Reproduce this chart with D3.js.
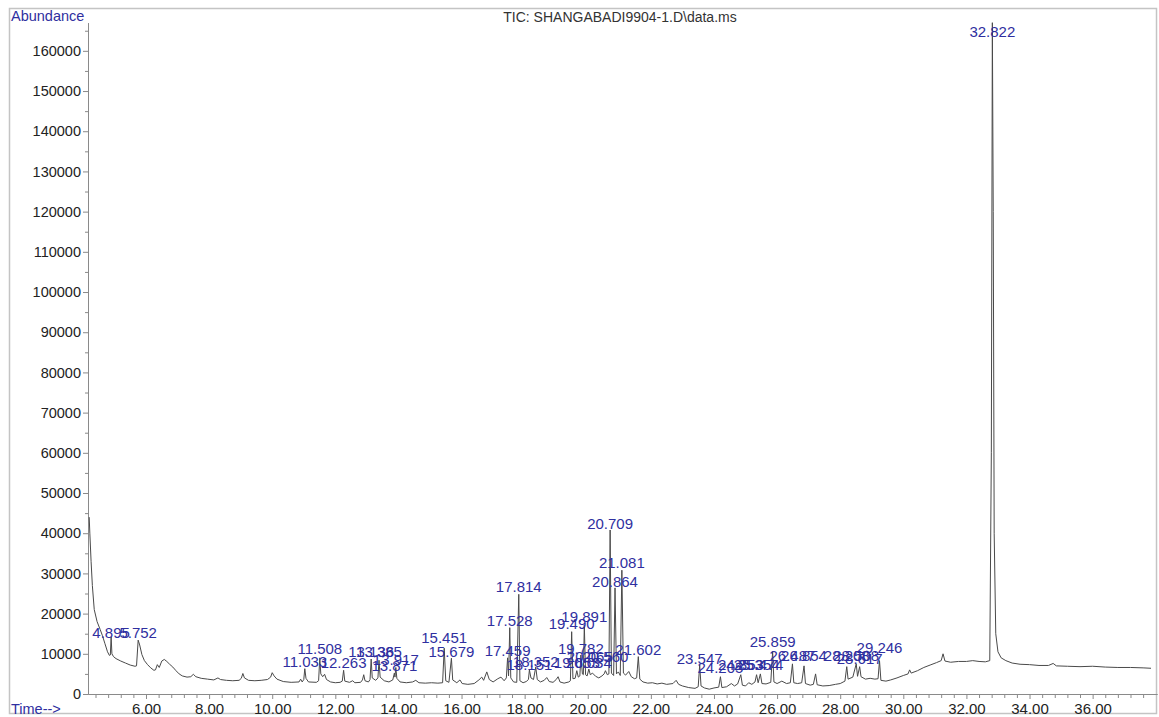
<!DOCTYPE html>
<html>
<head>
<meta charset="utf-8">
<script src="https://cdn.jsdelivr.net/npm/d3@7"></script>
<style>
  body { margin: 0; background: #fff; }
  svg text { font-family: "Liberation Sans", Arial, sans-serif; }
  .tic-axis path, .tic-axis line { stroke: #8a8a8a; }
  .tic-axis text { fill: #222; }
</style>
</head>
<body>
<div id="chart"></div>
<script>
// retention time (min), abundance
const trace = [
  [4.20,44000],[4.22,40000],[4.26,33000],[4.30,27000],[4.36,21000],[4.45,18000],[4.55,16000],[4.62,14500],
  [4.70,12500],[4.78,10500],[4.84,9600],[4.87,9700],[4.895,14200],[4.92,10000],[4.97,9300],[5.05,8800],
  [5.20,8200],[5.35,7700],[5.50,7200],[5.65,6900],[5.70,7000],[5.752,13400],[5.80,12200],[5.87,9800],
  [5.95,8300],[6.05,7300],[6.15,6500],[6.25,5900],[6.30,6000],[6.36,7300],[6.42,6600],[6.50,8200],
  [6.58,8600],[6.66,8100],[6.75,7400],[6.85,6700],[6.95,5800],[7.05,5000],[7.15,4500],[7.30,4200],
  [7.42,4300],[7.50,4900],[7.58,4300],[7.75,3900],[7.95,3700],[8.15,3500],[8.28,4000],[8.36,3600],
  [8.55,3400],[8.75,3300],[8.95,3400],[9.02,3900],[9.07,5100],[9.12,4000],[9.25,3400],[9.45,3300],
  [9.65,3400],[9.85,3600],[9.95,4200],[10.00,5300],[10.06,4500],[10.15,3700],[10.35,3100],[10.60,2900],
  [10.85,3000],[10.90,3700],[10.95,3000],[11.00,3600],[11.033,6300],[11.07,3900],[11.15,3000],[11.40,2900],
  [11.47,3300],[11.508,9000],[11.54,5000],[11.60,4300],[11.66,4900],[11.72,3600],[11.85,3000],[12.00,2800],
  [12.15,2900],[12.22,3200],[12.263,5900],[12.30,3200],[12.45,2900],[12.55,3300],[12.62,2800],[12.80,2900],
  [12.86,3500],[12.90,4800],[12.94,3300],[13.05,3000],[13.10,3600],[13.136,8700],[13.17,4000],[13.28,3400],
  [13.35,4000],[13.385,8400],[13.42,4200],[13.55,3300],[13.70,3000],[13.82,3500],[13.871,5200],[13.89,4200],
  [13.917,6600],[13.95,3900],[14.05,3000],[14.25,2800],[14.45,3000],[14.55,3400],[14.65,2800],[14.85,2700],
  [15.05,2800],[15.25,2700],[15.40,2800],[15.451,11400],[15.50,3300],[15.60,2900],[15.679,8900],[15.72,3500],
  [15.85,2800],[15.95,3500],[16.02,2600],[16.20,2400],[16.40,2600],[16.55,3500],[16.64,4200],[16.70,3400],
  [16.80,5500],[16.88,3600],[17.00,3000],[17.15,3800],[17.25,4200],[17.35,3300],[17.42,4000],[17.459,9000],
  [17.49,4500],[17.528,16500],[17.56,4000],[17.65,3000],[17.75,2900],[17.814,24800],[17.85,3300],[17.95,2800],
  [18.05,3100],[18.12,3600],[18.151,6000],[18.20,4000],[18.28,3600],[18.352,6700],[18.40,3600],[18.50,3000],
  [18.62,3400],[18.70,4100],[18.78,3100],[18.90,2900],[19.00,3600],[19.06,4300],[19.12,3000],[19.25,2700],
  [19.40,3000],[19.45,3300],[19.490,15500],[19.53,3800],[19.60,3900],[19.653,5800],[19.70,4200],[19.75,4500],
  [19.782,9700],[19.83,5000],[19.86,4800],[19.891,17200],[19.93,4800],[19.98,4500],[20.034,6200],[20.08,4800],
  [20.15,5200],[20.25,4400],[20.35,4000],[20.45,4500],[20.52,5000],[20.56,5800],[20.62,4800],[20.67,5000],
  [20.709,40800],[20.75,5200],[20.82,4600],[20.864,26400],[20.91,5000],[20.97,5500],[21.03,4600],[21.081,30800],
  [21.13,5200],[21.20,4700],[21.30,5600],[21.38,4300],[21.48,3800],[21.55,4000],[21.602,9300],[21.65,3700],
  [21.75,3000],[21.90,2700],[22.05,2800],[22.20,2500],[22.35,2700],[22.50,2400],[22.70,2600],[22.80,3400],
  [22.88,2400],[23.00,2000],[23.20,1600],[23.40,1400],[23.50,1800],[23.547,7200],[23.59,2000],[23.70,1500],
  [23.85,1200],[24.00,1500],[24.15,1700],[24.205,4300],[24.25,1600],[24.40,1800],[24.55,2600],[24.65,2000],
  [24.75,2500],[24.85,4800],[24.90,2200],[25.00,2000],[25.10,2800],[25.20,2400],[25.30,3000],[25.35,4800],
  [25.40,2800],[25.47,5000],[25.52,2600],[25.65,2500],[25.80,2900],[25.859,10600],[25.90,3000],[26.00,2600],
  [26.15,3200],[26.30,2600],[26.42,2800],[26.487,7500],[26.53,2800],[26.65,2600],[26.78,2800],[26.854,7000],
  [26.90,2600],[27.05,2200],[27.15,2400],[27.22,5000],[27.27,2300],[27.45,2000],[27.65,2100],[27.85,2400],
  [28.00,2600],[28.15,3200],[28.208,6800],[28.25,3700],[28.40,4200],[28.508,7500],[28.55,4400],[28.617,6800],
  [28.66,4300],[28.80,3700],[28.95,3900],[29.10,3700],[29.20,3800],[29.246,8300],[29.29,3400],[29.45,3200],
  [29.60,3500],[29.80,4000],[30.00,4600],[30.15,5000],[30.20,6000],[30.25,5200],[30.45,5800],[30.65,6600],
  [30.85,7200],[31.05,7800],[31.20,8300],[31.26,10000],[31.32,8200],[31.50,7900],[31.75,8100],[32.00,8100],
  [32.20,8300],[32.40,8100],[32.60,8000],[32.74,8300],[32.79,60000],[32.822,167000],[32.85,120000],[32.88,40000],
  [32.93,15000],[33.00,10500],[33.10,9000],[33.25,8300],[33.45,7700],[33.70,7400],[34.00,7300],[34.30,7100],
  [34.60,7100],[34.75,7600],[34.85,7000],[35.20,6900],[35.60,6800],[36.00,6900],[36.40,6700],[36.80,6600],
  [37.20,6600],[37.60,6500],[37.85,6400]
];

// integrated peaks: retention time and the abundance level the label sits at
const peakTimes = [4.895, 5.752, 11.033, 11.508, 12.263, 13.136, 13.385, 13.871, 13.917, 15.451, 15.679,
  17.459, 17.528, 17.814, 18.151, 18.352, 19.490, 19.653, 19.782, 19.891, 20.034, 20.065, 20.560, 20.709,
  20.864, 21.081, 21.602, 23.547, 24.205, 24.853, 25.354, 25.474, 25.859, 26.487, 26.854, 28.208, 28.508,
  28.617, 29.246, 32.822];
const peakLabelLevels = [14050, 14050, 6670, 10070, 6590, 9150, 9150, 5670, 7090, 12690, 9150,
  9330, 17040, 25320, 6090, 6840, 16290, 6470, 9950, 18030, 6470, 7910, 7910, 41170,
  26570, 31390, 9580, 7510, 5200, 5900, 5900, 5900, 11570, 8100, 8100, 8100, 8100,
  7500, 10150, 163560];

const xMajorTicks = [6, 8, 10, 12, 14, 16, 18, 20, 22, 24, 26, 28, 30, 32, 34, 36];
const yMajorTicks = [0, 10000, 20000, 30000, 40000, 50000, 60000, 70000, 80000, 90000, 100000,
  110000, 120000, 130000, 140000, 150000, 160000];

const titleText = "TIC: SHANGABADI9904-1.D\\data.ms";

const W = 1159, H = 717;
const svg = d3.select("#chart").append("svg")
  .attr("width", W)
  .attr("height", H);

// outer frame
svg.append("rect")
  .attr("x", 9.5).attr("y", 8.5)
  .attr("width", 1147).attr("height", 705)
  .attr("fill", "none")
  .attr("stroke", "#c4c4c4")
  .attr("stroke-width", 1.5);

var x = d3.scaleLinear().domain([4.162, 38.04]).range([88, 1157]);
var y = d3.scaleLinear().domain([0, 167000]).range([694, 22.7]);

// minor ticks every 0.4 min
const xMinor = d3.range(4.4, 38, 0.4).filter(t => !xMajorTicks.some(m => Math.abs(m - t) < 0.01));
svg.append("g")
  .attr("class", "tic-axis")
  .attr("transform", "translate(0,694)")
  .call(d3.axisBottom(x).tickValues(xMinor).tickSize(4).tickSizeOuter(0).tickFormat(""));
svg.append("g")
  .attr("class", "tic-axis")
  .attr("transform", "translate(0,694)")
  .call(d3.axisBottom(x).tickValues(xMajorTicks).tickSize(5).tickSizeOuter(0).tickPadding(4)
    .tickFormat(d3.format(".2f")))
  .call(g => g.selectAll("text").style("font-size", "15px"));

const yMinor = d3.range(5000, 167000, 10000);
svg.append("g")
  .attr("class", "tic-axis")
  .attr("transform", "translate(88,0)")
  .call(d3.axisLeft(y).tickValues(yMinor).tickSize(3).tickSizeOuter(0).tickFormat(""));
svg.append("g")
  .attr("class", "tic-axis")
  .attr("transform", "translate(88,0)")
  .call(d3.axisLeft(y).tickValues(yMajorTicks).tickSize(5).tickSizeOuter(0).tickPadding(2)
    .tickFormat(d3.format("d")))
  .call(g => g.selectAll("text").style("font-size", "14.5px"));

// trace
const line = d3.line()
  .x(d => x(d[0]))
  .y(d => y(d[1]));
svg.append("path")
  .datum(trace)
  .attr("d", line)
  .attr("fill", "none")
  .attr("stroke", "#4a4a4a")
  .attr("stroke-width", 1)
  .attr("stroke-linejoin", "round");

// peak labels
svg.append("g")
  .selectAll("text")
  .data(peakTimes)
  .enter()
  .append("text")
  .attr("x", d => x(d))
  .attr("y", (d, i) => y(peakLabelLevels[i]))
  .attr("text-anchor", "middle")
  .style("font-size", "15px")
  .style("fill", "#2f2fa0")
  .text(d => d.toFixed(3));

// titles
svg.append("text")
  .attr("x", 11).attr("y", 21)
  .style("font-size", "14.5px")
  .style("fill", "#2f2fa0")
  .text("Abundance");
svg.append("text")
  .attr("x", 11).attr("y", 714)
  .style("font-size", "14.5px")
  .style("fill", "#2f2fa0")
  .text("Time-->");
svg.append("text")
  .attr("x", 620).attr("y", 22)
  .attr("text-anchor", "middle")
  .style("font-size", "14px")
  .style("fill", "#333")
  .text(titleText);
</script>
</body>
</html>
